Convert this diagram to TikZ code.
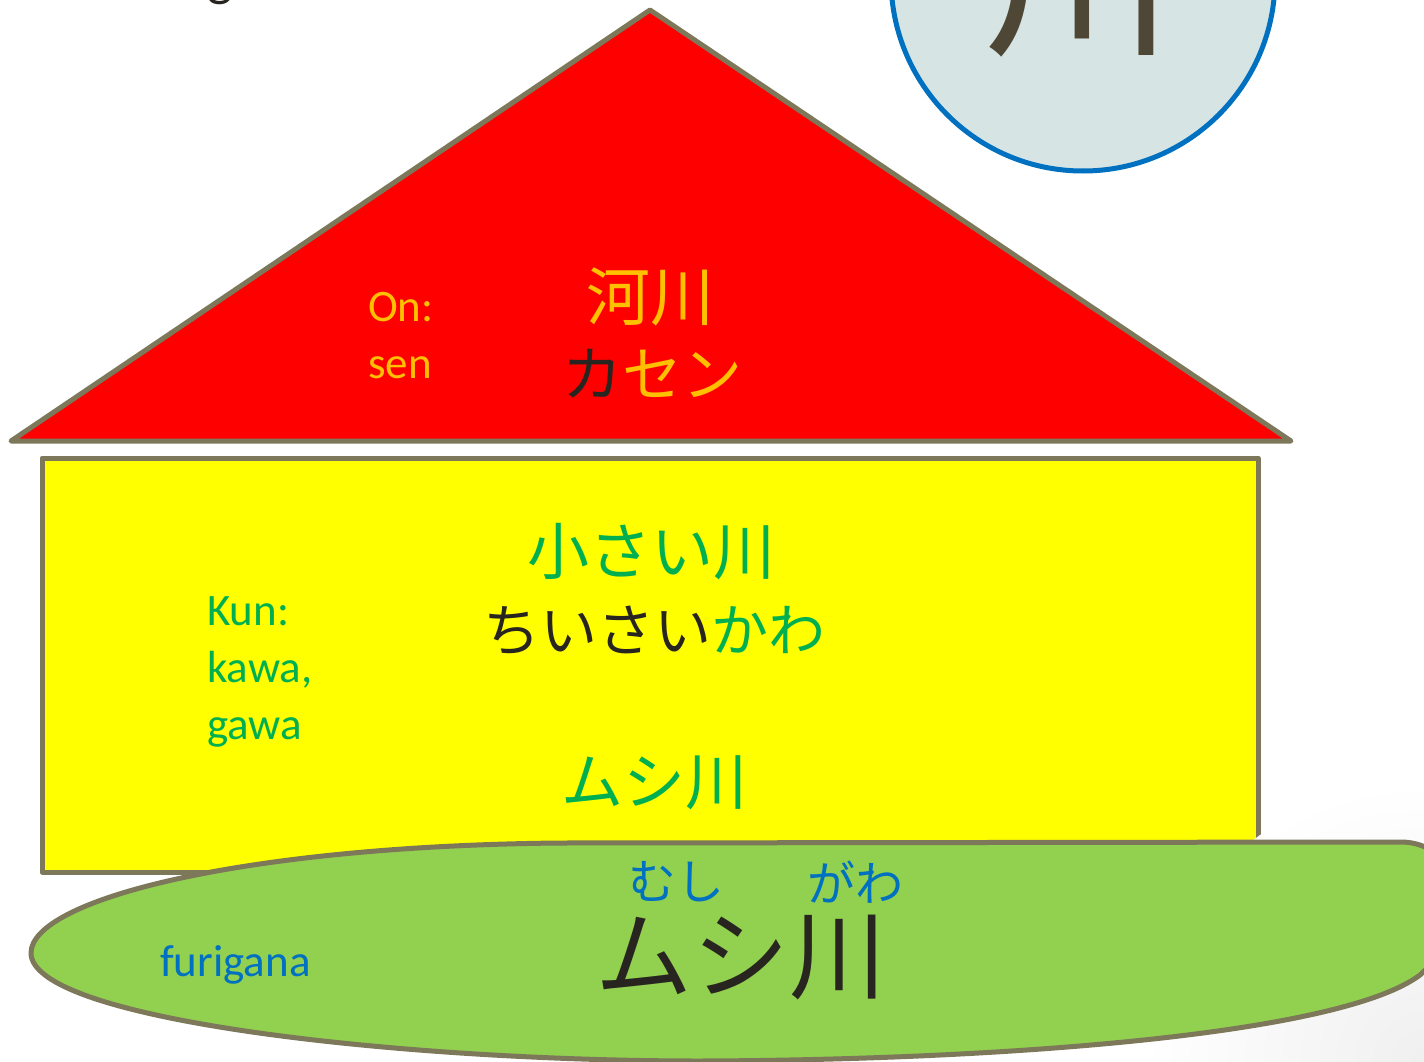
\documentclass[tikz,border=0pt]{standalone}
\usepackage{fontspec}
\setmainfont{Carlito}
\newfontfamily\jpfont{Noto Sans CJK JP}
\usetikzlibrary{positioning}

\definecolor{edge}{RGB}{125,120,90}
\definecolor{roof}{RGB}{255,0,0}
\definecolor{wall}{RGB}{255,255,0}
\definecolor{lawn}{RGB}{146,208,80}
\definecolor{moon}{RGB}{215,228,228}
\definecolor{moonline}{RGB}{0,112,192}
\definecolor{onyellow}{RGB}{255,192,0}
\definecolor{kungreen}{RGB}{0,176,80}
\definecolor{furiblue}{RGB}{0,112,192}
\definecolor{ink}{RGB}{40,37,32}
\definecolor{bigink}{RGB}{78,71,54}

\begin{document}
\begin{tikzpicture}[x=1pt, y=-1pt,
    outline/.style={draw=edge, line width=5pt, line join=round},
    reading/.style={inner sep=0pt, text height=33pt, text depth=11pt, font=\fontsize{45}{57}\selectfont},
    kanji/.style={inner sep=0pt, font={\jpfont\fontsize{#1}{#1}\selectfont}}]
    \clip (0, 0) rectangle (1424, 1062);

    % title line, cut off at the top
    \node (title) [inner sep=0pt, anchor=south, text=ink, font=\fontsize{54}{60}\selectfont] at (220, 5) {g};

    % kanji in the circle
    \filldraw [fill=moon, draw=moonline, line width=5pt] (1083, -21) circle (192);
    \node (kawa) [kanji=190, anchor=south, text=bigink] at (1079, 57) {川};

    % house
    \filldraw [outline, fill=roof] (650, 10) -- (1291, 441) -- (11, 441) -- cycle;
    \filldraw [outline, fill=wall] (42, 458) rectangle (1258, 872);

    % shadow in the corner
    \shade [inner color=black!6, outer color=white] (1424, 1062) circle (280);

    % ground
    \filldraw [outline, fill=lawn] (31, 953) .. controls (31, 900) and (240, 846) .. (560, 843)
        -- (1400, 842) .. controls (1470, 842) and (1465, 935) .. (1420, 975)
        .. controls (1340, 1035) and (1000, 1060) .. (700, 1061)
        .. controls (400, 1061) and (31, 1020) .. (31, 953) -- cycle;

    % On readings
    \node (on) [reading, anchor=base west, text=onyellow] at (368, 321) {On:};
    \node (sen) [reading, text=onyellow, below=13pt of on.south west, anchor=north west] {sen};
    \node (kasen) [kanji=64, text=onyellow] at (650, 297) {河川};
    \node (kasenkana) [kanji=60, text=onyellow] at (652, 374) {{\color{ink}カ}セン};

    % Kun readings
    \node (kun) [reading, anchor=base west, text=kungreen] at (207, 625) {Kun:};
    \node (kawaread) [reading, text=kungreen, below=13pt of kun.south west, anchor=north west] {kawa,};
    \node (gawaread) [reading, text=kungreen, below=13pt of kawaread.south west, anchor=north west] {gawa};
    \node (chiisai) [kanji=62, text=kungreen] at (651, 552) {小さい川};
    \node (chiisaikana) [kanji=57, text=kungreen] at (654, 631) {{\color{ink}ちいさい}かわ};
    \node (mushi) [kanji=62, text=kungreen] at (654, 783) {ムシ川};

    % furigana
    \node (furigana) [reading, anchor=base west, text=furiblue] at (160, 976) {furigana};
    \node (mushibig) [kanji=97, text=ink] at (741, 958) {ムシ川};
    \node (mushiruby) [kanji=48, text=furiblue] at (676, 882) {むし};
    \node (gawaruby) [kanji=48, text=furiblue] at (855, 882) {がわ};
\end{tikzpicture}
\end{document}
